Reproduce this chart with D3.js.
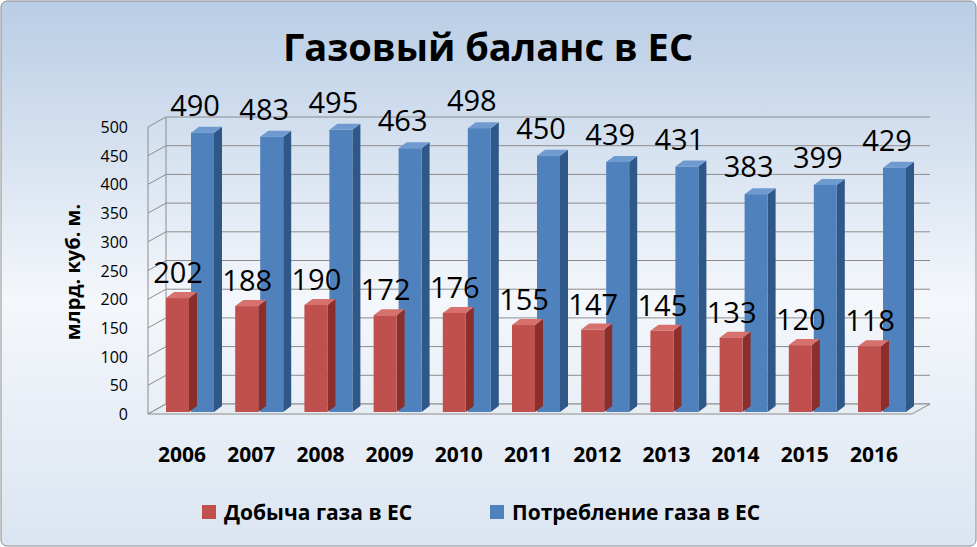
<!DOCTYPE html>
<html lang="ru">
<head>
<meta charset="utf-8">
<title>Газовый баланс в ЕС</title>
<script src="https://d3js.org/d3.v7.min.js"></script>
<style>body{margin:0;overflow:hidden;background:#fff}</style>
</head>
<body>
<div id="chart"></div>
<script>
// data
const years = ["2006","2007","2008","2009","2010","2011","2012","2013","2014","2015","2016"];
const production = [202,188,190,172,176,155,147,145,133,120,118];
const consumption = [490,483,495,463,498,450,439,431,383,399,429];
const yTicks = [0,50,100,150,200,250,300,350,400,450,500];

const W = 977, H = 547;
const font = "'Open Sans', 'Liberation Sans', sans-serif";
const dx = 18, dy = -10;      // depth of the 3D walls
const bdx = 8, bdy = -6;      // depth of a bar

const svg = d3.select("#chart").append("svg").attr("width", W).attr("height", H);
const defs = svg.append("defs");
const bg = defs.append("linearGradient").attr("id","bg").attr("x1",0).attr("y1",0).attr("x2",0).attr("y2",1);
bg.append("stop").attr("offset","0%").attr("stop-color","#b9cde5");
bg.append("stop").attr("offset","55%").attr("stop-color","#f4f7fb");
bg.append("stop").attr("offset","100%").attr("stop-color","#dbe5f1");

svg.append("rect").attr("x",1).attr("y",1).attr("width",W-2).attr("height",H-2)
  .attr("rx",6).attr("fill","url(#bg)").attr("stroke","#8c8c8c");

const x = d3.scalePoint().domain(years).range([190, 882]);
const y = d3.scaleLinear().domain([0, 500]).range([414, 127]);
const x0 = 148, x1 = 912;

// gridlines (side + back wall)
svg.append("g").selectAll("path").data(yTicks).join("path")
  .attr("d", d => `M${x0},${y(d)}L${x0+dx},${y(d)+dy}L${x1+dx},${y(d)+dy}`)
  .attr("fill","none").attr("stroke","#8c8c8c").attr("stroke-width",1);
svg.append("path")
  .attr("d", `M${x0},${y(0)}L${x0+dx},${y(0)+dy}L${x0+dx},${y(500)+dy}M${x0},${y(0)}L${x0},${y(500)}`)
  .attr("fill","none").attr("stroke","#8c8c8c");
// floor
svg.append("path")
  .attr("d", `M${x0},${y(0)}L${x1},${y(0)}L${x1+dx},${y(0)+dy}L${x0+dx},${y(0)+dy}Z`)
  .attr("fill","#e8edf3").attr("stroke","#8c8c8c");

// y tick labels
svg.append("g").selectAll("text").data(yTicks).join("text")
  .attr("x", 128).attr("y", d => y(d) + 6).attr("text-anchor","end")
  .attr("font-family",font).attr("font-size",16).attr("fill","#000").text(d => d);

function bar3d(g, left, val, w, front, top, side) {
  const xt = left, yt = y(val), yb = y(0) - 2;
  g.append("path").attr("d",`M${xt+w},${yt}L${xt+w+bdx},${yt+bdy}L${xt+w+bdx},${yb+bdy}L${xt+w},${yb}Z`).attr("fill",side);
  g.append("path").attr("d",`M${xt},${yt}L${xt+bdx},${yt+bdy}L${xt+w+bdx},${yt+bdy}L${xt+w},${yt}Z`).attr("fill",top);
  g.append("rect").attr("x",xt).attr("y",yt).attr("width",w).attr("height",yb-yt).attr("fill",front);
}

const bars = svg.append("g");
years.forEach((yr, i) => {
  const c = x(yr);
  bar3d(bars, c + 1, consumption[i], 23, "#4f81bd", "#6f9ad0", "#2f5788");
  bar3d(bars, c - 24, production[i], 23, "#c0504d", "#d6716e", "#8a2f2c");
});

// value labels
const lab = svg.append("g").attr("font-family",font).attr("font-size",29).attr("text-anchor","middle").attr("fill","#000");
years.forEach((yr, i) => {
  const c = x(yr);
  lab.append("text").attr("x", c + 5).attr("y", y(consumption[i]) - 17).text(consumption[i]);
  lab.append("text").attr("x", c - 12).attr("y", y(production[i]) - 15).text(production[i]);
});

// x labels
svg.append("g").selectAll("text").data(years).join("text")
  .attr("x", d => x(d) - 8).attr("y", 462).attr("text-anchor","middle")
  .attr("font-family",font).attr("font-weight","bold").attr("font-size",21).text(d => d);

// title
svg.append("text").attr("x", 488).attr("y", 61).attr("text-anchor","middle")
  .attr("font-family",font).attr("font-weight","bold").attr("font-size",38).text("Газовый баланс в ЕС");

// axis title
svg.append("text").attr("transform","translate(80,272) rotate(-90)").attr("text-anchor","middle")
  .attr("font-family",font).attr("font-weight","bold").attr("font-size",20).text("млрд. куб. м.");

// legend
const legend = [["Добыча газа в ЕС","#c0504d",202],["Потребление газа в ЕС","#4f81bd",490]];
legend.forEach(([t,col,lx]) => {
  svg.append("rect").attr("x",lx).attr("y",505).attr("width",14).attr("height",14).attr("fill",col);
  svg.append("text").attr("x",lx+22).attr("y",520).attr("font-family",font).attr("font-weight","bold")
    .attr("font-size",21).text(t);
});
</script>
</body>
</html>
